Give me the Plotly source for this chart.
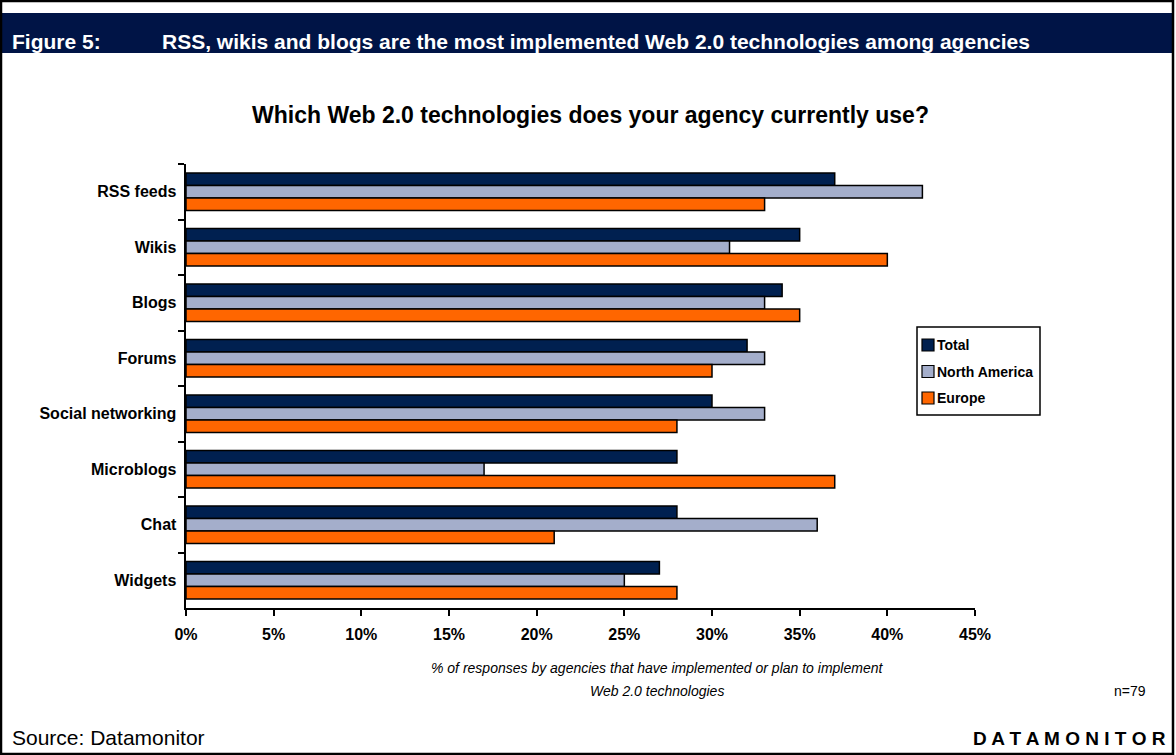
import plotly.graph_objects as go

categories = ["RSS feeds", "Wikis", "Blogs", "Forums", "Social networking", "Microblogs", "Chat", "Widgets"]
total = [37, 35, 34, 32, 30, 28, 28, 27]
north_america = [42, 31, 33, 33, 33, 17, 36, 25]
europe = [33, 40, 35, 30, 28, 37, 21, 28]
x_ticks = [0, 5, 10, 15, 20, 25, 30, 35, 40, 45]
x_tick_labels = [f"{v}%" for v in x_ticks]
series_names = ["Total", "North America", "Europe"]
series_colors = ["#002050", "#A4AECB", "#FF6600"]

W, H = 1176, 755
L, R, T, B = 186, 975, 164, 608

def px(x):
    return (x - L) / (R - L)

def py(y):
    return (B - y) / (B - T)

fig = go.Figure()
for name, vals, col in zip(series_names, [total, north_america, europe], series_colors):
    fig.add_trace(go.Bar(y=categories, x=vals, name=name, orientation="h",
                         marker=dict(color=col, line=dict(color="#000000", width=1.5))))

font = "Liberation Sans, Arial, sans-serif"
fig.update_layout(
    width=W, height=H,
    margin=dict(l=L, r=W - R, t=T, b=H - B),
    paper_bgcolor="white", plot_bgcolor="white",
    barmode="group", bargap=0.32, bargroupgap=0,
    font=dict(family=font, color="black"),
    showlegend=False,
    xaxis=dict(range=[0, 45], tickvals=x_ticks, ticktext=x_tick_labels,
               showgrid=False, zeroline=False, showline=True, linecolor="black", linewidth=2,
               ticks="outside", ticklen=6, tickwidth=1.5, tickcolor="black", ticklabelstandoff=5,
               tickfont=dict(size=16, family=font, color="black", weight="bold"), fixedrange=True),
    yaxis=dict(autorange="reversed", showgrid=False, showline=True, linecolor="black", linewidth=2,
               ticks="outside", tickson="boundaries", ticklen=6, tickwidth=1.5, tickcolor="black",
               tickfont=dict(size=16, family=font, color="black", weight="bold"), ticksuffix=" "),
)

shapes = [
    dict(type="rect", xref="paper", yref="paper", x0=px(2), x1=px(1172), y0=py(13), y1=py(53),
         fillcolor="#001446", line=dict(width=0), layer="below"),
    dict(type="rect", xref="paper", yref="paper", x0=px(1), x1=px(1173), y0=py(1), y1=py(754),
         fillcolor="rgba(0,0,0,0)", line=dict(color="black", width=2.5)),
    # legend box
    dict(type="rect", xref="paper", yref="paper", x0=px(917), x1=px(1040), y0=py(327), y1=py(415),
         fillcolor="white", line=dict(color="black", width=1.5)),
]
ann = []
for i, (name, col) in enumerate(zip(series_names, series_colors)):
    yc = 345 + i * 26.5
    shapes.append(dict(type="rect", xref="paper", yref="paper", x0=px(922), x1=px(934),
                       y0=py(yc - 6), y1=py(yc + 6), fillcolor=col, line=dict(color="black", width=1.2)))
    ann.append(dict(text=f"<b>{name}</b>", x=px(935), y=py(yc), xanchor="left", yanchor="middle",
                    font=dict(size=14, color="black")))
fig.update_layout(shapes=shapes)

ann += [
    dict(text="<b>Figure 5:</b>", x=px(10), y=py(42), xanchor="left", yanchor="middle",
         font=dict(size=21, color="white")),
    dict(text="<b>RSS, wikis and blogs are the most implemented Web 2.0 technologies among agencies</b>",
         x=px(160), y=py(42), xanchor="left", yanchor="middle", font=dict(size=21, color="white")),
    dict(text="<b>Which Web 2.0 technologies does your agency currently use?</b>",
         x=px(590), y=py(115), xanchor="center", yanchor="middle", font=dict(size=23, color="black")),
    dict(text="<i>% of responses by agencies that have implemented or plan to implement</i>",
         x=px(657), y=py(668), xanchor="center", yanchor="middle", font=dict(size=14, color="black")),
    dict(text="<i>Web 2.0 technologies</i>",
         x=px(657), y=py(691), xanchor="center", yanchor="middle", font=dict(size=14, color="black")),
    dict(text="n=79", x=px(1130), y=py(691), xanchor="center", yanchor="middle",
         font=dict(size=14, color="black")),
    dict(text="Source: Datamonitor", x=px(10), y=py(737), xanchor="left", yanchor="middle",
         font=dict(size=21, color="black")),
    dict(text="<b>D A T A M O N I T O R</b>", x=px(1168), y=py(738), xanchor="right", yanchor="middle",
         font=dict(size=19, color="black")),
]
for a in ann:
    a.update(xref="paper", yref="paper", showarrow=False)
fig.update_layout(annotations=ann)

fig.write_html("out.html")
